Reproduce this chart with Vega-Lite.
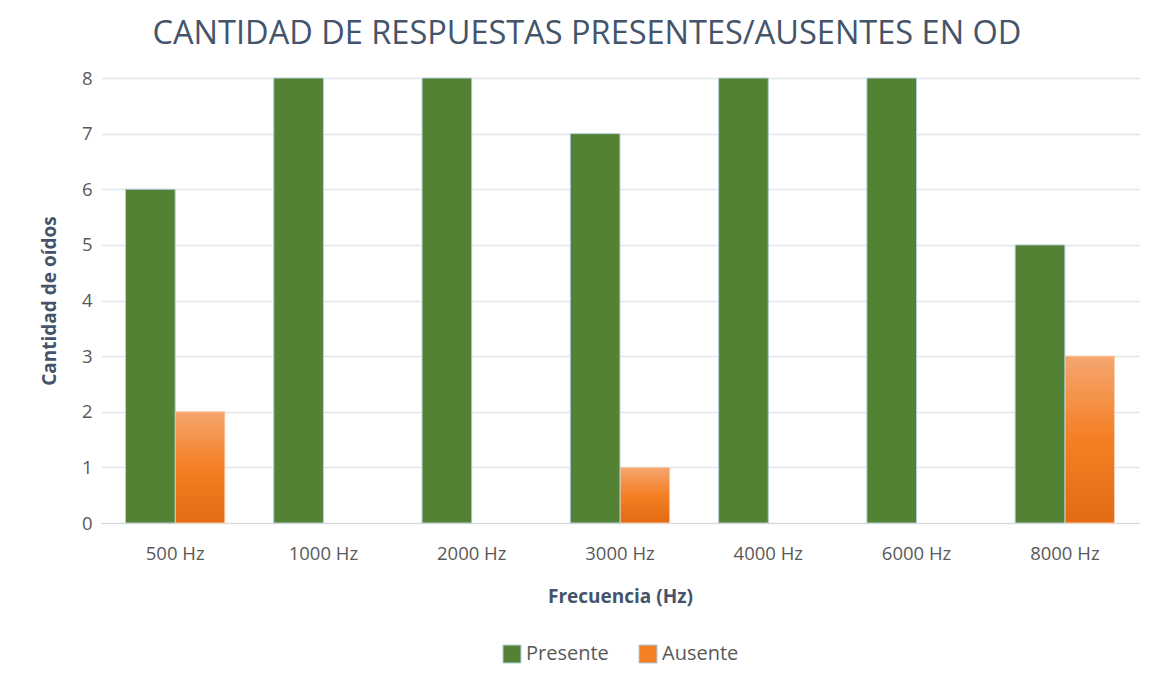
{
  "$schema": "https://vega.github.io/schema/vega-lite/v6.json",
  "width": 1038,
  "height": 445,
  "autosize": "none",
  "padding": {"left": 101, "top": 78, "right": 14, "bottom": 163},
  "background": "white",
  "title": {
    "text": "CANTIDAD DE RESPUESTAS PRESENTES/AUSENTES EN OD",
    "font": "Open Sans",
    "fontSize": 32.5,
    "fontWeight": "normal",
    "color": "#44546a",
    "anchor": "middle",
    "dx": -33,
    "offset": 19
  },
  "data": {
    "values": [
      {"freq": "500 Hz", "serie": "Presente", "valor": 6},
      {"freq": "500 Hz", "serie": "Ausente", "valor": 2},
      {"freq": "1000 Hz", "serie": "Presente", "valor": 8},
      {"freq": "1000 Hz", "serie": "Ausente", "valor": 0},
      {"freq": "2000 Hz", "serie": "Presente", "valor": 8},
      {"freq": "2000 Hz", "serie": "Ausente", "valor": 0},
      {"freq": "3000 Hz", "serie": "Presente", "valor": 7},
      {"freq": "3000 Hz", "serie": "Ausente", "valor": 1},
      {"freq": "4000 Hz", "serie": "Presente", "valor": 8},
      {"freq": "4000 Hz", "serie": "Ausente", "valor": 0},
      {"freq": "6000 Hz", "serie": "Presente", "valor": 8},
      {"freq": "6000 Hz", "serie": "Ausente", "valor": 0},
      {"freq": "8000 Hz", "serie": "Presente", "valor": 5},
      {"freq": "8000 Hz", "serie": "Ausente", "valor": 3}
    ]
  },
  "encoding": {
    "x": {
      "field": "freq",
      "type": "nominal",
      "sort": ["500 Hz", "1000 Hz", "2000 Hz", "3000 Hz", "4000 Hz", "6000 Hz", "8000 Hz"],
      "scale": {"paddingInner": 0.33, "paddingOuter": 0.165},
      "title": "Frecuencia (Hz)",
      "axis": {
        "labelAngle": 0,
        "labelFont": "Open Sans",
        "labelFontSize": 18.5,
        "labelColor": "#595959",
        "labelPadding": 21,
        "ticks": false,
        "domainColor": "#d9d9d9",
        "titleFont": "Open Sans",
        "titleFontSize": 19,
        "titleFontWeight": "bold",
        "titleColor": "#44546a",
        "titlePadding": 25
      }
    },
    "xOffset": {
      "field": "serie",
      "type": "nominal",
      "sort": ["Presente", "Ausente"],
      "scale": {"domain": ["Presente", "Ausente"], "paddingInner": 0, "paddingOuter": 0}
    },
    "y": {
      "field": "valor",
      "type": "quantitative",
      "scale": {"domain": [0, 8], "nice": false},
      "title": "Cantidad de oídos",
      "axis": {
        "values": [0, 1, 2, 3, 4, 5, 6, 7, 8],
        "labelFont": "Open Sans",
        "labelFontSize": 18.5,
        "labelColor": "#595959",
        "labelPadding": 9,
        "labelOverlap": false,
        "ticks": false,
        "domain": false,
        "gridColor": "#e1e5ec",
        "gridWidth": 1.5,
        "titleFont": "Open Sans",
        "titleFontSize": 19,
        "titleFontWeight": "bold",
        "titleColor": "#44546a",
        "titlePadding": 22
      }
    }
  },
  "layer": [
    {
      "mark": {"type": "bar"},
      "encoding": {
        "color": {
          "field": "serie",
          "type": "nominal",
          "sort": ["Presente", "Ausente"],
          "scale": {"domain": ["Presente", "Ausente"], "range": ["#548235", "#f47f24"]},
          "legend": {
            "orient": "bottom",
            "direction": "horizontal",
            "title": null,
            "symbolType": "square",
            "symbolSize": 320,
            "symbolStrokeColor": "#a9c4d6",
            "symbolStrokeWidth": 1,
            "labelFont": "Open Sans",
            "labelFontSize": 20,
            "labelColor": "#595959",
            "columnPadding": 28,
            "offset": 37
          }
        }
      }
    },
    {
      "transform": [{"filter": "datum.serie === 'Ausente' && datum.valor > 0"}],
      "mark": {
        "type": "bar",
        "stroke": "#fbd2b2",
        "strokeWidth": 1,
        "color": {
          "gradient": "linear",
          "x1": 0, "y1": 0, "x2": 0, "y2": 1,
          "stops": [
            {"offset": 0, "color": "#f4a66f"},
            {"offset": 0.5, "color": "#f47f24"},
            {"offset": 1, "color": "#e26b13"}
          ]
        }
      }
    },
    {
      "transform": [{"filter": "datum.serie === 'Presente'"}],
      "mark": {"type": "bar", "fill": "#548235", "stroke": "#b9d0de", "strokeWidth": 1}
    }
  ],
  "config": {
    "view": {"stroke": null},
    "legend": {"layout": {"bottom": {"anchor": "middle"}}}
  }
}
